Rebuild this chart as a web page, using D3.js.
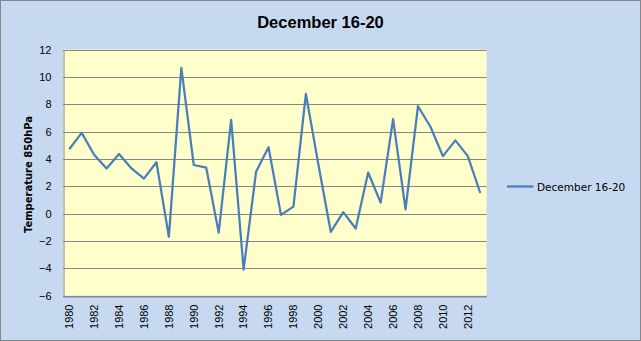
<!DOCTYPE html>
<html>
<head>
<meta charset="utf-8">
<script src="https://cdn.jsdelivr.net/npm/d3@7"></script>
<style>
  html, body { margin: 0; padding: 0; background: #c6d9f1; }
  svg { display: block; }
</style>
</head>
<body>
<script>
// December 16-20 mean temperature at 850 hPa, one value per year
const years = d3.range(1980, 2014);
const temps = [4.7, 5.9, 4.3, 3.3, 4.35, 3.3, 2.55, 3.75, -1.7, 10.65,
               3.55, 3.35, -1.4, 6.85, -4.1, 3.05, 4.85, -0.1, 0.5, 8.75,
               3.6, -1.35, 0.1, -1.1, 3.0, 0.8, 6.9, 0.3, 7.85, 6.35,
               4.2, 5.35, 4.2, 1.5];
const yTicks = [-6, -4, -2, 0, 2, 4, 6, 8, 10, 12];
const xLabelYears = years.filter(y => (y - 1980) % 2 === 0);
const seriesName = "December 16-20";
const chartTitle = "December 16-20";
const yTitle = "Temperature 850hPa";

const W = 641, H = 341;
const plot = { left: 63, top: 49.5, right: 486.5, bottom: 295.5 };

const svg = d3.select("body").append("svg")
  .attr("width", W).attr("height", H);

// chart background and frame
svg.append("rect")
  .attr("x", 0.5).attr("y", 0.5).attr("width", W - 1).attr("height", H - 1)
  .attr("fill", "#c6d9f1").attr("stroke", "#868686");

const x = d3.scaleBand().domain(years).range([plot.left, plot.right]);
const y = d3.scaleLinear().domain([-6, 12]).range([plot.bottom, plot.top]);

// plot area
svg.append("rect")
  .attr("x", plot.left).attr("y", plot.top)
  .attr("width", plot.right - plot.left).attr("height", plot.bottom - plot.top)
  .attr("fill", "#ffffcc");

// horizontal gridlines
svg.append("g").selectAll("line").data(yTicks).join("line")
  .attr("x1", plot.left).attr("x2", plot.right)
  .attr("y1", d => Math.round(y(d)) + 0.5).attr("y2", d => Math.round(y(d)) + 0.5)
  .attr("stroke", "#868686").attr("stroke-width", 1);

// y axis
const yAxis = svg.append("g")
  .attr("transform", `translate(${plot.left + 0.5},0)`)
  .call(d3.axisLeft(y).tickValues(yTicks).tickSize(0).tickPadding(12));
yAxis.select(".domain").attr("stroke", "#868686");
yAxis.selectAll("text")
  .attr("font-family", "'Liberation Sans', Arial, sans-serif")
  .attr("font-size", 11).attr("fill", "#000");

// x axis
const xAxis = svg.append("g")
  .attr("transform", `translate(0,${Math.round(plot.bottom) + 0.5})`)
  .call(d3.axisBottom(x).tickValues(xLabelYears).tickSize(0).tickFormat(d3.format("d")));
xAxis.select(".domain").attr("stroke", "#868686");
xAxis.selectAll("text")
  .attr("font-family", "'Liberation Sans', Arial, sans-serif")
  .attr("font-size", 11).attr("fill", "#000")
  .attr("transform", "rotate(-90)")
  .attr("text-anchor", "end")
  .attr("x", -8).attr("y", 0).attr("dy", "0.35em");

// series line
const line = d3.line()
  .x((d, i) => x(years[i]) + x.bandwidth() / 2)
  .y(d => y(d));
svg.append("path")
  .datum(temps)
  .attr("d", line)
  .attr("fill", "none")
  .attr("stroke", "#4a7ebb")
  .attr("stroke-width", 2.25)
  .attr("stroke-linejoin", "round");

// title
svg.append("text")
  .attr("x", 320.5).attr("y", 27.5)
  .attr("text-anchor", "middle")
  .attr("font-family", "'Liberation Sans', Arial, sans-serif")
  .attr("font-weight", "bold").attr("font-size", 16.5)
  .text(chartTitle);

// y axis title
svg.append("text")
  .attr("transform", `translate(31.5,${(plot.top + plot.bottom) / 2 + 2}) rotate(-90)`)
  .attr("text-anchor", "middle")
  .attr("font-family", "'DejaVu Sans', Verdana, sans-serif")
  .attr("font-weight", "bold").attr("font-size", 10)
  .text(yTitle);

// legend
const lg = svg.append("g");
lg.append("line")
  .attr("x1", 507).attr("x2", 533.5).attr("y1", 186.5).attr("y2", 186.5)
  .attr("stroke", "#4a7ebb").attr("stroke-width", 2.25);
lg.append("text")
  .attr("x", 537).attr("y", 190.5)
  .attr("font-family", "'DejaVu Sans', Verdana, sans-serif")
  .attr("font-size", 10.5)
  .text(seriesName);
</script>
</body>
</html>
